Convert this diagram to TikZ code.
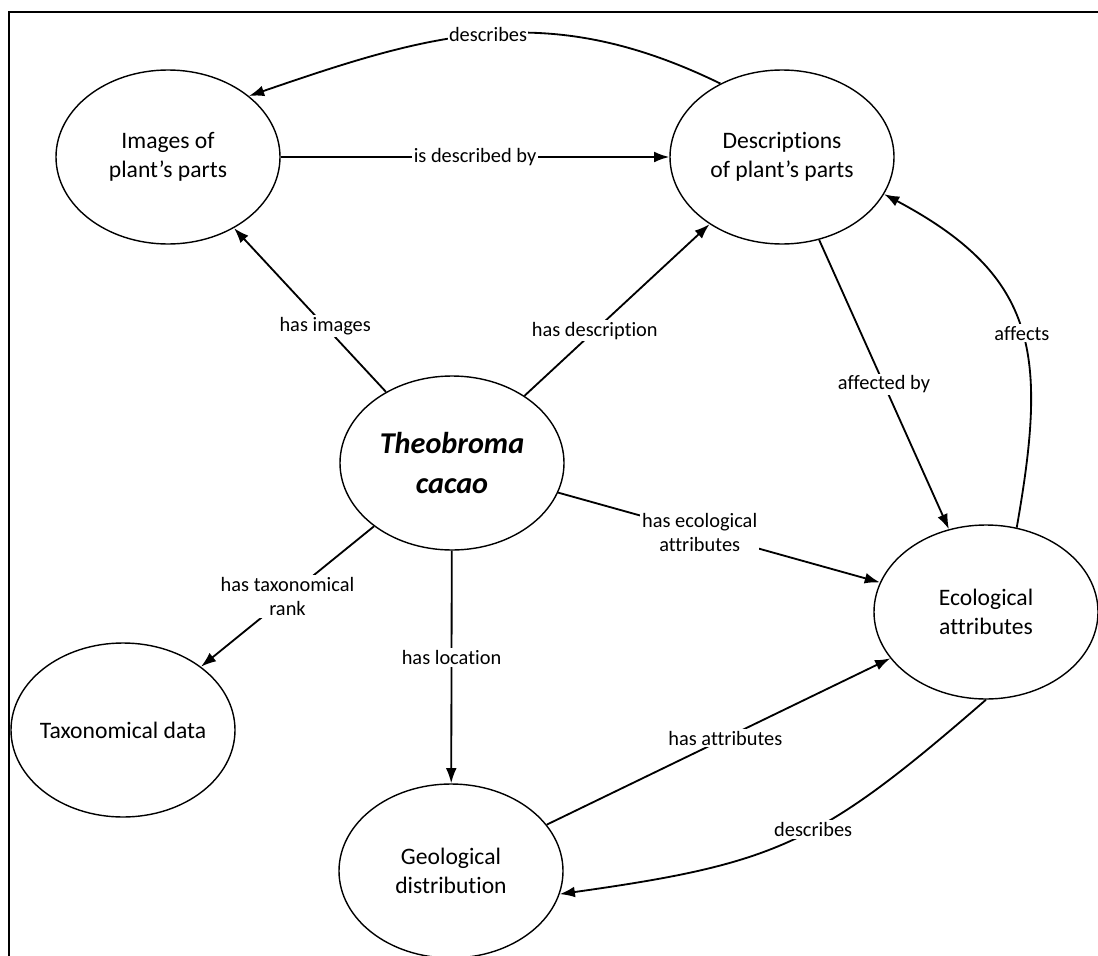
\documentclass[tikz,border=0pt]{standalone}
\usepackage{fontspec}
\setmainfont{Carlito}[Ligatures={TeX,NoCommon}]
\usetikzlibrary{shapes.geometric,arrows.meta}

\begin{document}
\begin{tikzpicture}[x=1cm,y=1cm,font=\fontsize{14.5}{17}\selectfont,align=center,
 concept/.style={ellipse,draw=black,line width=1pt,fill=white,minimum width=5.6cm,minimum height=4.35cm,inner xsep=-.4cm,font=\fontsize{16.8}{20.7}\selectfont},
 rel/.style={-{Latex[length=3.8mm,width=2.7mm]},line width=1.3pt,draw=black},
 lbl/.style={fill=white,inner sep=1.5pt}]
\useasboundingbox (0,0) rectangle (27.45,-23.9);
\clip (0,0) rectangle (27.45,-23.9);
\draw[line width=1.2pt] (.225,-.3) rectangle (28,-24.5);
% concepts around the species
\node[concept] (img) at (4.20,-3.925) {Images of\\plant’s parts};
\node[concept] (desc) at (19.55,-3.925) {Descriptions\\of plant’s parts};
\node[concept,font=\fontsize{21.5}{28}\selectfont\bfseries\itshape] (theo) at (11.30,-11.575) {Theobroma\\cacao};
\node[concept] (eco) at (24.65,-15.30) {Ecological\\attributes};
\node[concept] (tax) at (3.075,-18.25) {Taxonomical data};
\node[concept] (geo) at (11.275,-21.775) {Geological\\distribution};
% straight relations
\draw[rel] (img)--node[lbl] {is described by} (desc);
\draw[rel] (theo)--node[lbl,pos=.4] {has images} (img);
\draw[rel] (theo)--node[lbl,pos=.38] {has description} (desc);
\draw[rel] (theo)--node[lbl,pos=.44] {has ecological\\attributes} (eco);
\draw[rel] (theo)--node[lbl,pos=.5] {has taxonomical\\rank} (tax);
\draw[rel] (theo)--node[lbl,pos=.46] {has location} (geo);
\draw[rel] (geo)--node[lbl,pos=.52] {has attributes} (eco);
\draw[rel] (desc)--node[lbl,pos=.5] {affected by} (eco);
% curved relations
\draw[rel] (desc.130) to[out=154,in=19,looseness=1.05] node[lbl,inner sep=.5pt] {describes} (img.37);
\draw[rel] (eco.70) to[out=80,in=-28,looseness=1.25] node[lbl,pos=.48] {affects} (desc.-20);
\draw[rel] (eco.-90) to[out=221,in=8,looseness=1.2] node[lbl,pos=.44] {describes} (geo.-12);
\end{tikzpicture}
\end{document}
